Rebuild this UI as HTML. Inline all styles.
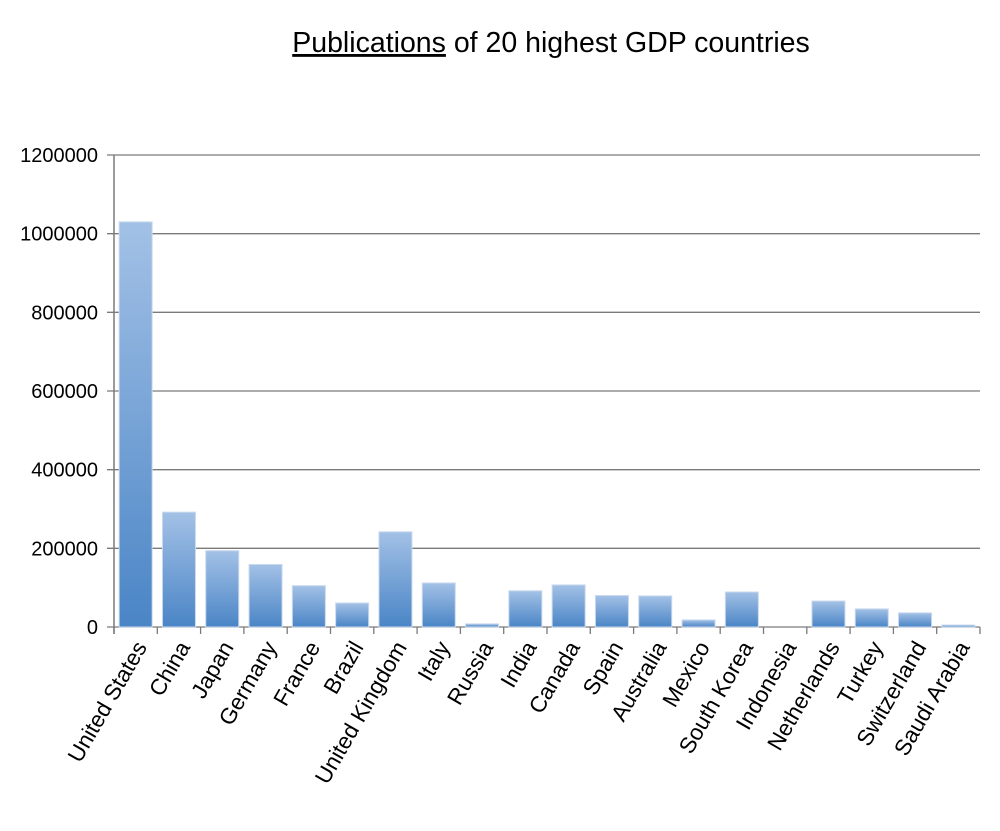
<!DOCTYPE html>
<html><head><meta charset="utf-8"><style>
body{margin:0;background:#fff;}
svg{display:block;font-family:"Liberation Sans",sans-serif;}
</style></head><body>
<svg width="1000" height="831" viewBox="0 0 1000 831">
<defs>
<linearGradient id="bg" x1="0" y1="0" x2="0" y2="1">
<stop offset="0" stop-color="#a3c1e6"/><stop offset="1" stop-color="#4a85c6"/>
</linearGradient>
</defs>
<text x="551" y="52" text-anchor="middle" font-size="28.5" fill="#000"><tspan text-decoration="underline">Publications</tspan> of 20 highest GDP countries</text>
<g id="grid"></g><g id="bars"></g><g id="axes"></g>
</svg>
<script>
const categories=["United States","China","Japan","Germany","France","Brazil","United Kingdom","Italy","Russia","India","Canada","Spain","Australia","Mexico","South Korea","Indonesia","Netherlands","Turkey","Switzerland","Saudi Arabia"];
const values=[1030000,292000,194000,159000,105000,61000,242000,112000,8000,92000,107000,80000,79000,18000,89000,0,66000,46000,36000,5000];
const yTicks=[0,200000,400000,600000,800000,1000000,1200000];
const NS="http://www.w3.org/2000/svg";
const X0=114,X1=980,Y0=627,Y1=155,YMAX=1200000;
const step=(X1-X0)/categories.length;
function y(v){return Y0-(v/YMAX)*(Y0-Y1);}
function x(i){return X0+i*step;}
function mk(t,a,p){const e=document.createElementNS(NS,t);for(const k in a)e.setAttribute(k,a[k]);p.appendChild(e);return e;}
const grid=document.getElementById('grid'),bars=document.getElementById('bars'),axes=document.getElementById('axes');
yTicks.forEach(v=>{
 const l=mk('line',{x1:X0-7,x2:X1,y1:y(v),y2:y(v),stroke:'#7a7a7a','stroke-width':1.3},grid);
 
 
 const t=mk('text',{x:X0-16,y:y(v)+7,'text-anchor':'end','font-size':20,fill:'#000'},axes);
 t.textContent=v;
 
 
});
const ax=mk('line',{x1:X0,x2:X0,y1:Y1,y2:Y0+7,stroke:'#7a7a7a','stroke-width':1.5},axes);


for(let i=0;i<=categories.length;i++){
 const tk=mk('line',{x1:x(i),x2:x(i),y1:Y0,y2:Y0+7,stroke:'#7a7a7a','stroke-width':1.3},axes);
 
 
}
categories.forEach((c,i)=>{
 const cx=x(i)+step/2, w=33;
 if(values[i]>0){
  const r=mk('rect',{x:cx-w/2,y:y(values[i]),width:w,height:Y0-y(values[i]),fill:'url(#bg)',stroke:'#c9d9ee','stroke-width':1},bars);
  
  
 }
 const t=mk('text',{x:cx+12,y:Y0+20,'text-anchor':'end','font-size':22.5,fill:'#000',transform:`rotate(-60 ${cx+12} ${Y0+20})`},axes);
 t.textContent=c;
 
 
});
</script>
</body></html>
